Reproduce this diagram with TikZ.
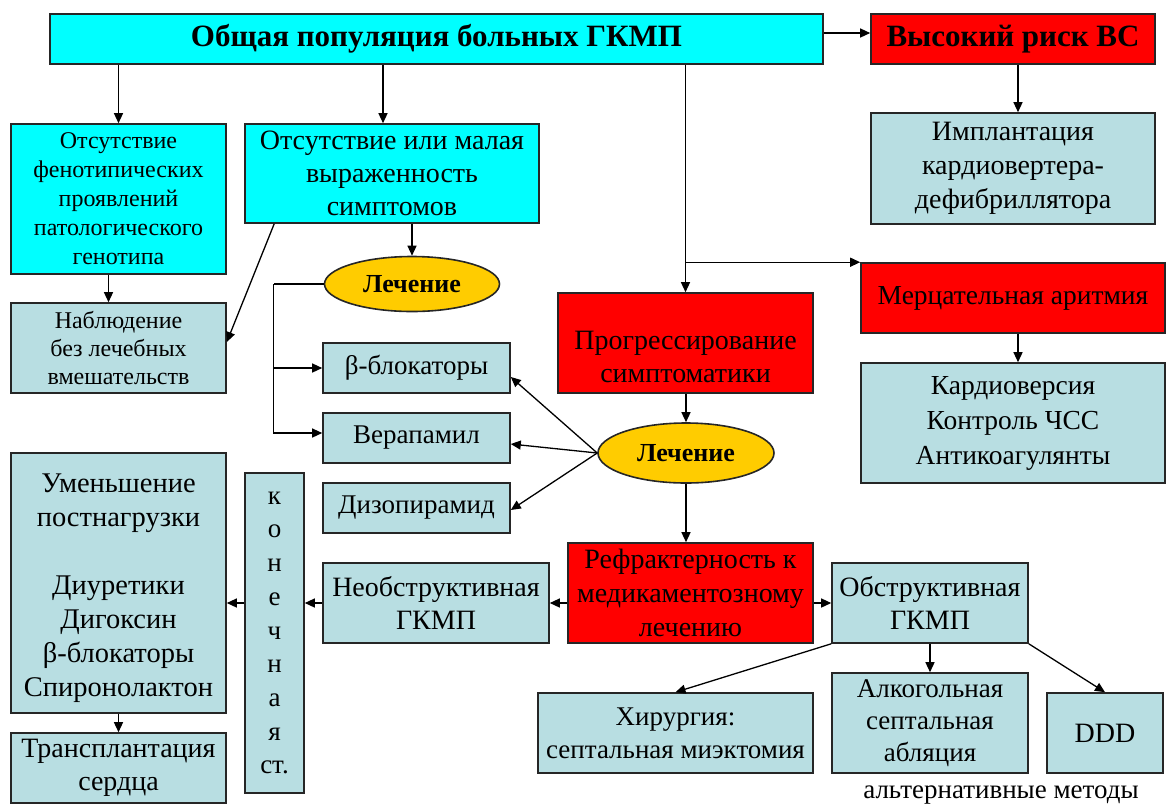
\documentclass[tikz,border=0pt]{standalone}
\usepackage{fontspec}
\setmainfont{Liberation Serif}
\definecolor{boxcyan}{RGB}{0,255,255}
\definecolor{riskred}{RGB}{255,0,0}
\definecolor{paleteal}{RGB}{184,222,226}
\definecolor{treatgold}{RGB}{255,204,0}
\usetikzlibrary{shapes.geometric, arrows.meta, calc}
\newcommand\fsz[2]{\fontsize{#1pt}{#2pt}\selectfont}
\tikzset{
  box/.style={draw=black!85, line width=1.6pt, align=center, inner sep=2pt},
  cyanbox/.style={box, fill=boxcyan},
  redbox/.style={box, fill=riskred},
  tealbox/.style={box, fill=paleteal},
  treat/.style={ellipse, draw=black!85, line width=1.6pt, fill=treatgold, inner sep=0pt, font=\bfseries\fsz{26}{30}},
  arr/.style={line width=1.3pt, -{Triangle[length=10pt,width=9pt]}},
  conn/.style={line width=1.3pt},
}

\begin{document}
\begin{tikzpicture}[x=1pt, y=-1pt]
  \useasboundingbox (0,0) rectangle (1166,807);

  % Top row
  \node[cyanbox, minimum width=773pt, minimum height=50pt, font=\bfseries\fsz{31}{36}] (main) at (436.5,39) {Общая популяция больных ГКМП};
  \node[redbox, minimum width=284pt, minimum height=50pt, font=\bfseries\fsz{31}{36}] (risk) at (1013,39) {Высокий риск ВС};
  \node[tealbox, minimum width=284pt, minimum height=111pt, font=\fsz{28}{34}] (icd) at (1013,168.5) {Имплантация\\кардиовертера-\\дефибриллятора};

  % Left branches
  \node[cyanbox, minimum width=215pt, minimum height=150pt, font=\fsz{24}{29}] (pheno) at (118.5,199) {Отсутствие\\фенотипических\\проявлений\\патологического\\генотипа};
  \node[cyanbox, minimum width=294pt, minimum height=99pt, font=\fsz{28}{33}] (mild) at (392,173.5) {Отсутствие или малая\\выраженность\\симптомов};
  \node[treat, minimum width=175pt, minimum height=55pt] (treatA) at (412,284) {Лечение};
  \node[tealbox, minimum width=215pt, minimum height=90pt, font=\fsz{24}{28}] (observ) at (118.5,348) {Наблюдение\\без лечебных\\вмешательств};

  % Drugs
  \node[tealbox, minimum width=187pt, minimum height=50pt, font=\fsz{27}{32}] (beta) at (416.5,368) {β-блокаторы};
  \node[tealbox, minimum width=187pt, minimum height=50pt, font=\fsz{27}{32}] (vera) at (416.5,438) {Верапамил};
  \node[tealbox, minimum width=187pt, minimum height=50pt, font=\fsz{27}{32}] (dizo) at (416.5,508) {Дизопирамид};

  % Middle column
  \node[redbox, minimum width=255pt, minimum height=100pt, font=\fsz{28}{33}] (progr) at (685.5,343) {\rule{0pt}{46pt}Прогрессирование\\симптоматики};
  \node[treat, minimum width=176pt, minimum height=60pt] (treatB) at (686,453) {Лечение};
  \node[redbox, minimum width=245pt, minimum height=100pt, font=\fsz{28}{34}] (refr) at (690.5,593) {Рефрактерность к\\медикаментозному\\лечению};

  % Right column
  \node[redbox, minimum width=304pt, minimum height=70pt, font=\fsz{27.5}{32}] (afib) at (1013,298) {Мерцательная аритмия};
  \node[tealbox, minimum width=304pt, minimum height=120pt, font=\fsz{27.5}{35}] (cardio) at (1013,423) {Кардиоверсия\\Контроль ЧСС\\Антикоагулянты};

  % Bottom rows
  \node[tealbox, minimum width=226pt, minimum height=80pt, font=\fsz{28}{33}] (neobs) at (436,603) {Необструктивная\\ГКМП};
  \node[tealbox, minimum width=196pt, minimum height=80pt, font=\fsz{28}{33}] (obs) at (930,603) {Обструктивная\\ГКМП};
  \node[tealbox, minimum width=59pt, minimum height=320pt, font=\fsz{27}{33.7}] (konech) at (274.5,633) {к\\о\\н\\е\\ч\\н\\а\\я\\ст.};
  \node[tealbox, minimum width=215pt, minimum height=260pt, font=\fsz{28.5}{34}] (reduce) at (118.5,583) {\rule{0pt}{30pt}Уменьшение\\постнагрузки\\[34pt]Диуретики\\Дигоксин\\β-блокаторы\\Спиронолактон};
  \node[tealbox, minimum width=215pt, minimum height=70pt, font=\fsz{28}{33}] (transpl) at (118.5,768) {Трансплантация\\сердца};
  \node[tealbox, minimum width=275pt, minimum height=80pt, font=\fsz{27}{33}] (surg) at (675.5,733) {Хирургия:\\септальная миэктомия};
  \node[tealbox, minimum width=196pt, minimum height=100pt, font=\fsz{27}{32}] (alco) at (930,723) {Алкогольная\\септальная\\абляция};
  \node[tealbox, minimum width=116pt, minimum height=80pt, font=\fsz{28}{33}] (ddd) at (1105,733) {DDD};
  \node[font=\fsz{27}{30}] (alt) at (1001,795) {альтернативные методы};

  % Connectors
  \draw[arr] ($(main.east)+(0,-6)$) -- ($(risk.west)+(0,-6)$);
  \draw[arr] ($(risk.south)+(5,0)$) -- ($(icd.north)+(5,0)$);
  \draw[arr] (pheno.north |- main.south) -- (pheno.north);
  \coordinate (mildtop) at ($(mild.north)+(-9,0)$);
  \draw[arr] (mildtop |- main.south) -- (mildtop);
  \draw[arr] (mild.south -| treatA.north) -- (treatA.north);
  \draw[arr] ($(mild.south west)+(30,0)$) -- ($(observ.east)+(0,-6)$);
  \coordinate (phenobot) at ($(pheno.south)+(-10,0)$);
  \draw[arr] (phenobot) -- (phenobot |- observ.north);
  \coordinate (brk) at ($(treatA.west)+(-50,0)$);
  \draw[conn] (treatA.west) -- (brk);
  \draw[arr] (brk) |- ($(vera.west)+(0,-5)$);
  \draw[arr] (brk |- beta.west) -- (beta.west);

  \coordinate (split) at (progr.north |- afib.north west);
  \draw[arr] (main.south -| progr.north) -- (progr.north);
  \draw[arr] (split) -- (afib.north west);
  \draw[arr] ($(afib.south)+(5,0)$) -- ($(cardio.north)+(5,0)$);
  \draw[arr] (progr.south -| treatB.north) -- (treatB.north);
  \draw[arr] (treatB.west) -- ($(beta.east)+(0,9)$);
  \draw[arr] (treatB.west) -- ($(vera.east)+(0,6)$);
  \draw[arr] (treatB.west) -- ($(dizo.east)+(0,2)$);
  \draw[arr] (treatB.south) -- (treatB.south |- refr.north);

  \draw[arr] (refr.west |- neobs.east) -- (neobs.east);
  \draw[arr] (neobs.west) -- (neobs.west -| konech.east);
  \draw[arr] (konech.west |- neobs.west) -- (reduce.east |- neobs.west);
  \draw[arr] (reduce.south) -- (transpl.north);
  \draw[arr] (refr.east |- obs.west) -- (obs.west);
  \draw[arr] (obs.south west) -- (surg.north);
  \draw[arr] (obs.south -| alco.north) -- (alco.north);
  \draw[arr] (obs.south east) -- (ddd.north);
\end{tikzpicture}
\end{document}
